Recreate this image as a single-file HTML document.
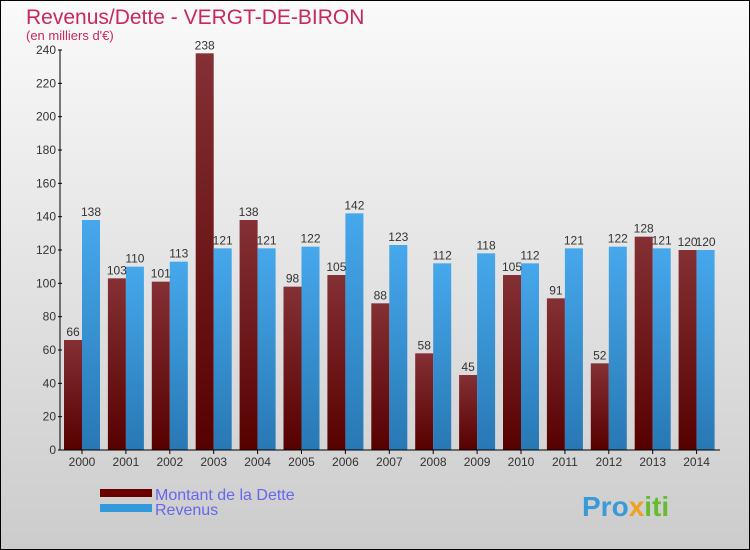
<!DOCTYPE html>
<html><head><meta charset="utf-8"><style>
body{margin:0;width:750px;height:550px;overflow:hidden;font-family:"Liberation Sans",sans-serif}
svg{display:block}
</style></head><body>
<svg id="chart" width="750" height="550" xmlns="http://www.w3.org/2000/svg">
<defs>
<linearGradient id="bg" x1="0" y1="0" x2="0" y2="1"><stop offset="0" stop-color="#fafafa"/><stop offset="1" stop-color="#cccccc"/></linearGradient>
<linearGradient id="gd" x1="0" y1="0" x2="0" y2="1"><stop offset="0" stop-color="#843034"/><stop offset="1" stop-color="#570000"/></linearGradient>
<linearGradient id="gr" x1="0" y1="0" x2="0" y2="1"><stop offset="0" stop-color="#46a8ec"/><stop offset="1" stop-color="#2878b4"/></linearGradient>
</defs>
<rect x="0.5" y="0.5" width="749" height="549" fill="url(#bg)" stroke="#000"/>
<text x="26" y="24" font-size="21" fill="#c8285a">Revenus/Dette - VERGT-DE-BIRON</text>
<text x="26" y="40" font-size="13" fill="#c8285a">(en milliers d'€)</text>
<g id="grid"></g>
<g id="bars"></g>
<g id="axes"></g>
<rect x="100" y="489" width="52" height="8" fill="#6b0000"/>
<rect x="100" y="504" width="52" height="8" fill="#3399dd"/>
<text x="155" y="500" font-size="16" fill="#6666ee">Montant de la Dette</text>
<text x="155" y="515" font-size="16" fill="#6666ee">Revenus</text>
<text x="582" y="516" font-size="28" font-weight="bold" fill="#3a9ad9">Pro<tspan fill="#f0a020">x</tspan><tspan fill="#66bb33">iti</tspan></text>
</svg>
<script>
const years=["2000","2001","2002","2003","2004","2005","2006","2007","2008","2009","2010","2011","2012","2013","2014"];
const dette=[66,103,101,238,138,98,105,88,58,45,105,91,52,128,120];
const revenus=[138,110,113,121,121,122,142,123,112,118,112,121,122,121,120];
const yTicks=[0,20,40,60,80,100,120,140,160,180,200,220,240];
const NS="http://www.w3.org/2000/svg";
const y0=450,yTop=50,yMax=240;
function yScale(v){return y0-(v/yMax)*(y0-yTop);}
function xCenter(i){return 82+i*43.9;}
const bw=18;
const bars=document.getElementById('bars'),axes=document.getElementById('axes');
function mk(tag,attrs,parent){const e=document.createElementNS(NS,tag);for(const k in attrs)e.setAttribute(k,attrs[k]);parent.appendChild(e);return e;}
years.forEach((yr,i)=>{
 const c=xCenter(i);
 const d=mk('rect',{x:c-bw,y:yScale(dette[i]),width:bw,height:y0-yScale(dette[i]),fill:'url(#gd)'},bars);
 
 
 const r=mk('rect',{x:c,y:yScale(revenus[i]),width:bw,height:y0-yScale(revenus[i]),fill:'url(#gr)'},bars);
 
 
 const t1=mk('text',{x:c-bw/2,y:yScale(dette[i])-4,'font-size':12,fill:'#333','text-anchor':'middle'},bars);
 t1.textContent=dette[i];
 
 
 const t2=mk('text',{x:c+bw/2,y:yScale(revenus[i])-4,'font-size':12,fill:'#333','text-anchor':'middle'},bars);
 t2.textContent=revenus[i];
 
 
 const xl=mk('text',{x:c,y:466,'font-size':12,fill:'#333','text-anchor':'middle'},axes);
 xl.textContent=yr;
 
 
 mk('line',{x1:c,x2:c,y1:y0,y2:y0+4,stroke:'#000'},axes);
});
const ya=mk('line',{x1:60,x2:60,y1:yTop,y2:y0,stroke:'#000'},axes);


const xa=mk('line',{x1:58,x2:720,y1:y0,y2:y0,stroke:'#000'},axes);


yTicks.forEach(v=>{
 const y=yScale(v);
 mk('line',{x1:58,x2:62,y1:y,y2:y,stroke:'#000'},axes);
 const t=mk('text',{x:56,y:y+4,'font-size':12,fill:'#333','text-anchor':'end'},axes);
 t.textContent=v;
 
 
});
</script>
</body></html>
